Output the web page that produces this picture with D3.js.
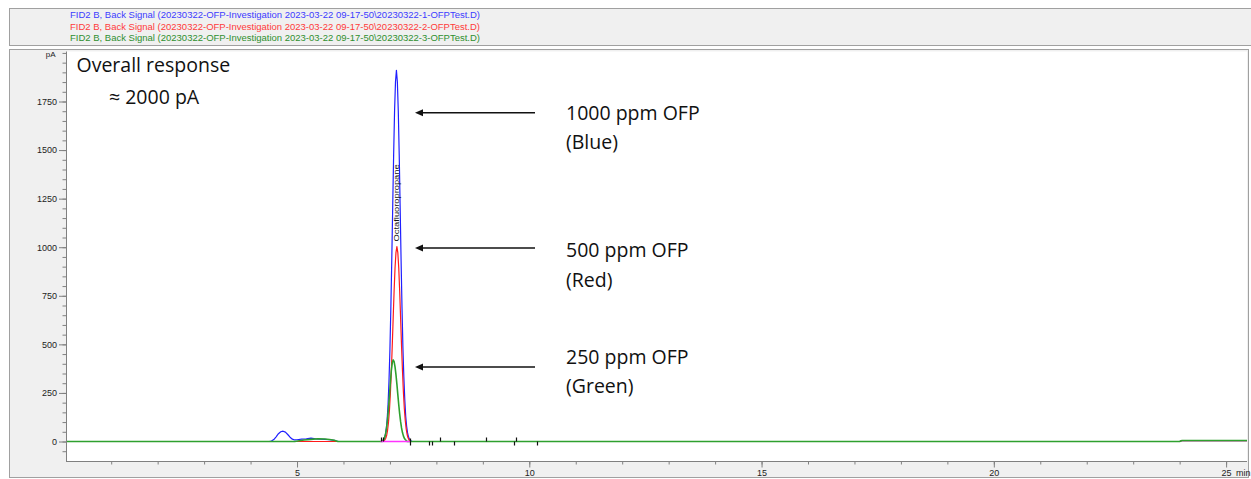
<!DOCTYPE html>
<html>
<head>
<meta charset="utf-8">
<script src="https://cdn.jsdelivr.net/npm/d3@7"></script>
<style>
  body { margin: 0; background: #fff; }
  svg { display: block; }
</style>
</head>
<body>
<div id="chart"></div>
<script>
// legend lines of the three runs
const legendLines = [
  "FID2 B, Back Signal (20230322-OFP-Investigation 2023-03-22 09-17-50\\20230322-1-OFPTest.D)",
  "FID2 B, Back Signal (20230322-OFP-Investigation 2023-03-22 09-17-50\\20230322-2-OFPTest.D)",
  "FID2 B, Back Signal (20230322-OFP-Investigation 2023-03-22 09-17-50\\20230322-3-OFPTest.D)"
];

// [time min, signal pA]
const blueTrace = [
  [0, 0], [4.40, 0], [4.45, 2], [4.50, 10], [4.55, 24], [4.60, 40], [4.65, 50], [4.70, 53],
  [4.75, 48], [4.80, 36], [4.85, 22], [4.90, 12], [4.95, 8], [5.00, 9], [5.10, 12], [5.20, 14],
  [5.30, 17], [5.40, 14], [5.50, 12], [5.60, 11], [5.70, 9], [5.80, 6], [5.85, 2], [5.90, 0],
  [6.82, 0], [6.84, 3], [6.86, 7], [6.88, 16], [6.90, 32], [6.92, 62], [6.94, 112], [6.96, 192],
  [6.98, 311], [7.00, 474], [7.02, 686], [7.04, 937], [7.06, 1210], [7.08, 1476], [7.10, 1701],
  [7.12, 1852], [7.14, 1910], [7.16, 1852], [7.18, 1701], [7.20, 1476], [7.22, 1210], [7.24, 937],
  [7.26, 690], [7.28, 480], [7.30, 330], [7.32, 215], [7.34, 130], [7.36, 78], [7.38, 44],
  [7.40, 24], [7.42, 12], [7.44, 6], [7.46, 2], [7.48, 0], [24.0, 0], [24.05, 5], [25.45, 5]
];

const redTrace = [
  [0, 0], [6.85, 0], [6.87, 4], [6.89, 8], [6.91, 17], [6.93, 32], [6.95, 59], [6.97, 101],
  [6.99, 163], [7.01, 249], [7.03, 360], [7.05, 492], [7.07, 635], [7.09, 775], [7.11, 893],
  [7.13, 972], [7.15, 1003], [7.17, 972], [7.19, 893], [7.21, 775], [7.23, 635], [7.25, 492],
  [7.27, 365], [7.29, 255], [7.31, 170], [7.33, 108], [7.35, 65], [7.37, 36], [7.39, 19],
  [7.41, 9], [7.43, 4], [7.45, 0], [24.0, 0], [24.05, 5], [25.45, 5]
];

const greenTrace = [
  [0, 0], [4.95, 0], [5.05, 4], [5.15, 8], [5.30, 11], [5.45, 14], [5.60, 13], [5.70, 10],
  [5.80, 6], [5.88, 0], [6.83, 0], [6.85, 6], [6.87, 12], [6.89, 24], [6.91, 43], [6.93, 74],
  [6.95, 117], [6.97, 173], [6.99, 238], [7.01, 305], [7.03, 364], [7.05, 405], [7.07, 420],
  [7.09, 411], [7.11, 384], [7.13, 344], [7.15, 295], [7.17, 241], [7.19, 189], [7.21, 142],
  [7.23, 102], [7.25, 70], [7.27, 46], [7.29, 29], [7.31, 17], [7.33, 10], [7.35, 5], [7.37, 0],
  [24.0, 0], [24.05, 5], [25.45, 5]
];

// integration baseline under the main peak
const peakBaseline = [[6.80, 0], [7.43, 0]];

// integration event marks (time, kind)
const eventTimes = [6.80, 6.85, 7.43, 7.84, 7.91, 8.07, 8.39, 9.07, 9.68, 9.72, 10.17];
const eventKinds = ["up", "up", "both", "down", "down", "up", "down", "up", "down", "up", "down"];

const peakName = "Octafluoropropane";

const xMajorTicks = [5, 10, 15, 20, 25];
const xMinorTicks = d3.range(1, 26);
const yMajorTicks = [0, 250, 500, 750, 1000, 1250, 1500, 1750];
const yMinorTicks = d3.range(-50, 2001, 50);

// callouts: text lines next to each arrow
const calloutLines = [["1000 ppm OFP", "(Blue)"], ["500 ppm OFP", "(Red)"], ["250 ppm OFP", "(Green)"]];

const W = 1251, H = 479;
const plot = { left: 66, right: 1247, top: 51.5, bottom: 461.5 };

const svg = d3.select("#chart").append("svg")
  .attr("width", W)
  .attr("height", H)
  .style("font-family", "'Liberation Sans', Arial, sans-serif");

// legend box
svg.append("rect")
  .attr("x", 9.5).attr("y", 8.5).attr("width", 1250).attr("height", 37)
  .attr("fill", "#f0f0f0").attr("stroke", "#a0a0a0");

const legendColors = ["#3c3cff", "#ff3a3a", "#2e8f2e"];
svg.append("g").selectAll("text")
  .data(legendLines)
  .join("text")
  .attr("x", 70)
  .attr("y", (d, i) => [18.3, 29.6, 41][i])
  .attr("font-size", "8.5px")
  .attr("textLength", 410)
  .attr("lengthAdjust", "spacingAndGlyphs")
  .attr("fill", (d, i) => legendColors[i])
  .text(d => d);

// chart panel and plot area
svg.append("rect")
  .attr("x", 9.5).attr("y", 49.5).attr("width", 1239).attr("height", 428)
  .attr("fill", "#f0f0f0").attr("stroke", "#a0a0a0");
svg.append("rect")
  .attr("x", plot.left).attr("y", plot.top)
  .attr("width", plot.right - plot.left).attr("height", plot.bottom - plot.top)
  .attr("fill", "#fff");

const x = d3.scaleLinear().domain([0.027, 25.45]).range([plot.left, plot.right]);
// anchored on the 0 and 1750 gridlines; extends linearly to the frame
const y = d3.scaleLinear().domain([0, 1750]).range([441.5, 101.5]);

// x axis
const xMinor = svg.append("g")
  .attr("transform", `translate(0,${plot.bottom})`)
  .call(d3.axisBottom(x).tickValues(xMinorTicks).tickSize(3).tickFormat(""));
const xMajor = svg.append("g")
  .attr("transform", `translate(0,${plot.bottom})`)
  .call(d3.axisBottom(x).tickValues(xMajorTicks).tickSize(6).tickPadding(2).tickFormat(d => d));
[xMinor, xMajor].forEach(g => {
  g.select(".domain").remove();
  g.selectAll("line").attr("stroke", "#808080");
});
xMajor.selectAll("text").attr("font-size", "9px").attr("fill", "#222");
svg.append("text")
  .attr("x", 1236).attr("y", 475.5)
  .attr("font-size", "9px").attr("fill", "#222")
  .text("min");

// y axis
const yMinor = svg.append("g")
  .attr("transform", `translate(${plot.left},0)`)
  .call(d3.axisLeft(y).tickValues(yMinorTicks).tickSize(3.5).tickFormat(""));
const yMajor = svg.append("g")
  .attr("transform", `translate(${plot.left},0)`)
  .call(d3.axisLeft(y).tickValues(yMajorTicks).tickSize(7).tickPadding(2).tickFormat(d => d));
[yMinor, yMajor].forEach(g => {
  g.select(".domain").remove();
  g.selectAll("line").attr("stroke", "#808080");
});
yMajor.selectAll("text").attr("font-size", "9px").attr("fill", "#222");
svg.append("text")
  .attr("x", 55.5).attr("y", y(2000) + 4)
  .attr("text-anchor", "end")
  .attr("font-size", "8px").attr("fill", "#222")
  .text("pA");

// axis lines
svg.append("line")
  .attr("x1", plot.left + 0.5).attr("x2", plot.left + 0.5)
  .attr("y1", plot.top).attr("y2", plot.bottom)
  .attr("stroke", "#808080");
svg.append("line")
  .attr("x1", plot.left).attr("x2", plot.right)
  .attr("y1", plot.bottom).attr("y2", plot.bottom)
  .attr("stroke", "#808080");

// traces
svg.append("clipPath").attr("id", "plotclip")
  .append("rect")
  .attr("x", plot.left + 1).attr("y", plot.top)
  .attr("width", plot.right - plot.left - 1).attr("height", plot.bottom - plot.top);

const line = d3.line().x(d => x(d[0])).y(d => y(d[1]));
const traces = svg.append("g").attr("clip-path", "url(#plotclip)");

[[blueTrace, "#1f1fff", 1.2], [redTrace, "#ff1a1a", 1.2], [greenTrace, "#2ea02e", 1.6]].forEach(([data, color, w]) => {
  traces.append("path")
    .datum(data)
    .attr("fill", "none")
    .attr("stroke", color)
    .attr("stroke-width", w)
    .attr("stroke-linejoin", "round")
    .attr("d", line);
});

traces.append("path")
  .datum(peakBaseline)
  .attr("fill", "none")
  .attr("stroke", "#ff33ff")
  .attr("stroke-width", 1.3)
  .attr("d", line);

// event marks
traces.append("g").selectAll("line")
  .data(eventTimes)
  .join("line")
  .attr("x1", d => Math.round(x(d)) + 0.5).attr("x2", d => Math.round(x(d)) + 0.5)
  .attr("y1", (d, i) => y(0) + (eventKinds[i] === "up" ? -4 : eventKinds[i] === "down" ? 0 : -3))
  .attr("y2", (d, i) => y(0) + (eventKinds[i] === "up" ? 0 : 4))
  .attr("stroke", "#111")
  .attr("stroke-width", 1.2);

// peak name, written upward inside the peak
svg.append("text")
  .attr("transform", `translate(${x(7.14) + 2.8},${y(1030)}) rotate(-90)`)
  .attr("font-size", "8px")
  .attr("textLength", 77)
  .attr("lengthAdjust", "spacingAndGlyphs")
  .attr("fill", "#111")
  .text(peakName);

// annotations
const note = svg.append("g")
  .style("font-family", "'Open Sans', 'Noto Sans', sans-serif")
  .attr("fill", "#111");
note.append("text").attr("x", 76.5).attr("y", 72).attr("font-size", "19.5px").text("Overall response");
note.append("text").attr("x", 109).attr("y", 103.5).attr("font-size", "19.5px").text("\u2248 2000 pA");

const arrowY = [112.7, 248, 367];
const textY = [119.5, 257, 363.5];
calloutLines.forEach((lines, i) => {
  const ay = arrowY[i];
  note.append("line")
    .attr("x1", 535).attr("x2", 421)
    .attr("y1", ay).attr("y2", ay)
    .attr("stroke", "#111").attr("stroke-width", 1.5);
  note.append("path")
    .attr("d", `M415,${ay} L423,${ay - 3.5} L423,${ay + 3.5} Z`)
    .attr("fill", "#111");
  lines.forEach((t, j) => {
    note.append("text")
      .attr("x", 566)
      .attr("y", textY[i] + j * 29.5)
      .attr("font-size", "19.5px")
      .text(t);
  });
});
</script>
</body>
</html>
